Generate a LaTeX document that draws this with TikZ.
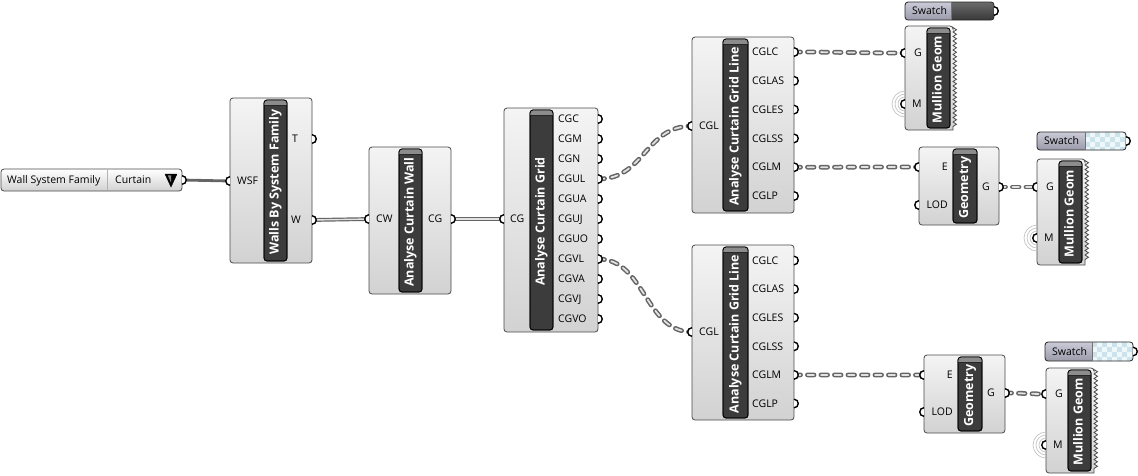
\documentclass[tikz,border=0pt]{standalone}
\usepackage{fontspec}
\setmainfont{Open Sans}
\usetikzlibrary{calc,backgrounds}

\definecolor{boxtop}{HTML}{F4F4F4}
\definecolor{boxbot}{HTML}{D2D2D2}
\definecolor{boxedge}{HTML}{4A4A4A}
\definecolor{bardark}{HTML}{3C3C3C}
\definecolor{barhi}{HTML}{8C8C8C}
\definecolor{wiredark}{HTML}{656565}
\definecolor{wirelight}{HTML}{E2E2E2}
\definecolor{swlabA}{HTML}{CACAD8}
\definecolor{swlabB}{HTML}{9A9AAA}
\definecolor{checkA}{HTML}{EEF7FA}
\definecolor{checkB}{HTML}{CDE3EC}
\definecolor{ringc}{HTML}{C4C4C4}

\tikzset{
  x=1pt, y=-1pt,
  compbox/.style={draw=boxedge, line width=0.8pt, rounded corners=3pt,
    top color=boxtop, bottom color=boxbot, inner sep=0pt, outer sep=0pt},
  titlebar/.style={draw=black, line width=0.8pt, fill=bardark,
    rounded corners=3pt, inner sep=0pt, outer sep=0pt},
  titletext/.style={text=white, font=\fontsize{12.5}{14}\selectfont\bfseries,
    rotate=90, inner sep=0pt, text height=9pt, text depth=3pt},
  lbl/.style={font=\fontsize{10.5}{12}\selectfont, inner sep=0pt, text=black,
    text height=7.5pt, text depth=0pt},
  portst/.style={draw=black, line width=1.4pt, fill=white},
  wsingle/.style={draw=wiredark, line width=2.8pt},
  wdouble/.style={draw=wiredark, line width=1.2pt, double=wirelight, double distance=1.4pt},
  wlist/.style={draw=wirelight, line width=1.8pt, line cap=round, dash pattern=on 6.5pt off 7pt,
    preaction={draw=wiredark, line width=4.8pt, line cap=round, dash pattern=on 6.5pt off 7pt}},
  ringst/.style={draw=ringc, line width=0.7pt},
}

\newcommand{\inport}[3]{%
  \coordinate (#1) at (#2,#3);
  \filldraw[portst] (#2,#3-4.3) .. controls (#2-5.6,#3-4.3) and (#2-5.6,#3+4.3) .. (#2,#3+4.3);}
\newcommand{\outport}[3]{%
  \coordinate (#1) at (#2,#3);
  \filldraw[portst] (#2,#3-4.3) .. controls (#2+5.6,#3-4.3) and (#2+5.6,#3+4.3) .. (#2,#3+4.3);}

% title bar: name x1 y1 x2 y2 text
\newcommand{\tbar}[6]{%
  \node[titlebar, anchor=north west, minimum width={(#4)-(#2)}, minimum height={(#5)-(#3)}] (#1) at (#2,#3) {};
  \begin{scope}
    \clip[rounded corners=3pt] (#2,#3) rectangle (#4,#5);
    \fill[barhi] (#2,#3) rectangle (#4,#3+4.5);
    \draw[black!85, line width=0.6pt] (#2,#3+5) -- (#4,#3+5);
  \end{scope}
  \draw[black, line width=0.8pt, rounded corners=3pt] (#2,#3) rectangle (#4,#5);
  \node[titletext] at ($(#1.center)+(0,1.5)$) {#6};}

% component: name x1 y1 x2 y2 bx1 bx2 title
\newcommand{\comp}[8]{%
  \node[compbox, anchor=north west, minimum width={(#4)-(#2)}, minimum height={(#5)-(#3)}] (#1) at (#2,#3) {};
  \tbar{#1-bar}{#6}{#3+2}{#7}{#5-2}{#8}}

% mullion geom: name x1 y1 x2 y2
\newcommand{\mullion}[5]{%
  \coordinate (#1) at ({(#2+#4)/2},{(#3+#5)/2});
  \pgfmathtruncatemacro\nteeth{(#5-#3-3)/4.5}%
  \path[compbox] (#4,#5) -- (#2,#5) -- (#2,#3) -- (#4,#3) [sharp corners] -- (#4,#3+1.5)
     \foreach \k in {1,...,\nteeth} { -- ++(3.5,2.25) -- ++(-3.5,2.25) } -- cycle;
  \tbar{#1-bar}{#2+22}{#3+2}{#2+45}{#5-2}{Mullion Geom}}

% rings round an unconnected port
\newcommand{\rings}[2]{%
  \begin{scope}
    \clip (#1-16,#2-16) rectangle (#1-1,#2+16);
    \draw[ringst] (#1,#2) circle[radius=7];
    \draw[ringst] (#1,#2) circle[radius=10];
    \draw[ringst] (#1,#2) circle[radius=13];
  \end{scope}}

% swatch: name x1 y1 xd x2 y2 kind
\newcommand{\swatchbox}[7]{%
  \pgfmathsetmacro\swmid{(#3+#6)/2}%
  \node[inner sep=0pt, anchor=north west, minimum width={(#5)-(#2)}, minimum height={(#6)-(#3)}] (#1) at (#2,#3) {};
  \begin{scope}
    \clip[rounded corners=3pt] (#2,#3) rectangle (#5,#6);
    \shade[top color=swlabA, bottom color=swlabB] (#2,#3) rectangle (#4,#6);
    \ifx#7d
      \shade[top color=black!58, bottom color=black!78] (#4,#3) rectangle (#5,#6);
    \else
      \fill[checkA] (#4,#3) rectangle (#5,#6);
      \foreach \c in {0,...,9} { \foreach \r in {0,...,4} {
        \pgfmathtruncatemacro\chk{mod(\c+\r,2)}%
        \ifnum\chk=0 \fill[checkB] (#4+\c*5,#3+\r*5) rectangle ++(5,5); \fi }}
    \fi
  \end{scope}
  \draw[black!85, line width=0.8pt, rounded corners=3pt] (#2,#3) rectangle (#5,#6);
  \draw[black!55, line width=0.6pt] (#4,#3) -- (#4,#6);
  \node[lbl, anchor=west] (#1-lbl) at (#2+7,\swmid) {Swatch};
  \outport{#1-out}{#5}{\swmid}}

\begin{document}
\begin{tikzpicture}
\useasboundingbox (0,0) rectangle (1138,475);

% ---------- value list
\node[compbox, anchor=north west, minimum width=181, minimum height=22, top color=white] (vlist) at (1,169) {};
\draw[black!30, line width=0.7pt] (107,170) -- (107,190);
\node[lbl, anchor=west] (vl-name) at (7,180) {Wall System Family};
\node[lbl, anchor=west] (vl-val) at (115,180) {Curtain};
\filldraw[black] (165,174) -- (177,174) -- (171,187) -- cycle;
\fill[black!45] (167.8,175.3) -- (171,175.3) -- (171,182.5) -- cycle;
\outport{vl-out}{182}{180}

% ---------- Walls By System Family
\comp{wbsf}{230}{98}{312}{263}{264}{287}{Walls By System Family}
\node[lbl, anchor=west] (wbsf-l1) at (237,181) {WSF};
\node[lbl, anchor=west] (wbsf-l2) at (292,139) {T};
\node[lbl, anchor=west] (wbsf-l3) at (291,220) {W};
\inport{wbsf-wsf}{230}{181}
\outport{wbsf-t}{312}{139}
\outport{wbsf-w}{312}{220}

% ---------- Analyse Curtain Wall
\comp{acw}{369}{147}{451}{294}{399}{422}{Analyse Curtain Wall}
\node[lbl, anchor=west] (acw-l1) at (376,219) {CW};
\node[lbl, anchor=west] (acw-l2) at (428,219) {CG};
\inport{acw-cw}{369}{219}
\outport{acw-cg}{451}{219}

% ---------- Analyse Curtain Grid
\comp{acg}{504}{108}{598}{332}{530}{553}{Analyse Curtain Grid}
\node[lbl, anchor=west] (acg-l0) at (510,219) {CG};
\inport{acg-cg}{504}{219}
\foreach \n [count=\i from 0] in {CGC,CGM,CGN,CGUL,CGUA,CGUJ,CGUO,CGVL,CGVA,CGVJ,CGVO} {
  \node[lbl, anchor=west] (acg-l-\n) at (558,119+20*\i) {\n};
  \outport{acg-\n}{598}{119+20*\i}
}

% ---------- Analyse Curtain Grid Line (top)
\comp{gla}{692}{37}{794}{213}{723}{748}{Analyse Curtain Grid Line}
\node[lbl, anchor=west] (gla-l0) at (699,126) {CGL};
\inport{gla-cgl}{692}{126}
\foreach \n [count=\i from 0] in {CGLC,CGLAS,CGLES,CGLSS,CGLM,CGLP} {
  \node[lbl, anchor=west] (gla-l-\n) at (752,52+28.8*\i) {\n};
  \outport{gla-\n}{794}{52+28.8*\i}
}

% ---------- Analyse Curtain Grid Line (bottom)
\comp{glb}{692}{245}{794}{420}{723}{748}{Analyse Curtain Grid Line}
\node[lbl, anchor=west] (glb-l0) at (699,332) {CGL};
\inport{glb-cgl}{692}{332}
\foreach \n [count=\i from 0] in {CGLC,CGLAS,CGLES,CGLSS,CGLM,CGLP} {
  \node[lbl, anchor=west] (glb-l-\n) at (752,260.5+28.6*\i) {\n};
  \outport{glb-\n}{794}{260.5+28.6*\i}
}

% ---------- Geometry (upper)
\comp{geoa}{919}{147}{999}{225}{953}{977}{Geometry}
\node[lbl, anchor=east] (geoa-l1) at (948,167) {E};
\node[lbl, anchor=east] (geoa-l2) at (948,205) {LOD};
\node[lbl, anchor=west] (geoa-l3) at (982,187) {G};
\inport{geoa-e}{919}{167}
\inport{geoa-lod}{919}{205}
\outport{geoa-g}{999}{187}

% ---------- Geometry (lower)
\comp{geob}{924}{355}{1005}{433}{958}{982}{Geometry}
\node[lbl, anchor=east] (geob-l1) at (953,375) {E};
\node[lbl, anchor=east] (geob-l2) at (953,412) {LOD};
\node[lbl, anchor=west] (geob-l3) at (987,393) {G};
\inport{geob-e}{924}{375}
\inport{geob-lod}{924}{412}
\outport{geob-g}{1005}{393}

% ---------- Swatches
\swatchbox{swa}{905}{2}{951}{994}{20}{d}
\swatchbox{swb}{1037}{132}{1085}{1126}{150}{c}
\swatchbox{swc}{1045}{342}{1092}{1133}{361}{c}

% ---------- Mullion Geom (three)
\mullion{mga}{905}{26}{953}{130}
\node[lbl, anchor=west] (mga-l1) at (914,53) {G};
\node[lbl, anchor=west] (mga-l2) at (912,104) {M};
\rings{905}{104}
\inport{mga-g}{905}{53}
\inport{mga-m}{905}{104}

\mullion{mgb}{1037}{159}{1085}{265}
\node[lbl, anchor=west] (mgb-l1) at (1046,187) {G};
\node[lbl, anchor=west] (mgb-l2) at (1044,238) {M};
\rings{1037}{238}
\inport{mgb-g}{1037}{187}
\inport{mgb-m}{1037}{238}

\mullion{mgc}{1046}{368}{1094}{473}
\node[lbl, anchor=west] (mgc-l1) at (1055,394) {G};
\node[lbl, anchor=west] (mgc-l2) at (1053,445) {M};
\rings{1046}{445}
\inport{mgc-g}{1046}{394}
\inport{mgc-m}{1046}{445}

% ---------- wires (behind everything)
\begin{pgfonlayer}{background}
\fill[white] (0,0) rectangle (1138,475);
\draw[wsingle] (vl-out) -- (wbsf-wsf);
\draw[wdouble] (wbsf-w) -- (acw-cw);
\draw[wdouble] (acw-cg) -- (acg-cg);
\draw[wlist] (acg-CGUL) .. controls ($(acg-CGUL)+(47,0)$) and ($(gla-cgl)+(-47,0)$) .. (gla-cgl);
\draw[wlist] (acg-CGVL) .. controls ($(acg-CGVL)+(47,0)$) and ($(glb-cgl)+(-47,0)$) .. (glb-cgl);
\draw[wlist] (gla-CGLC) to[out=0,in=180] (mga-g);
\draw[wlist] (gla-CGLM) to[out=0,in=180] (geoa-e);
\draw[wlist] (geoa-g) to[out=0,in=180] (mgb-g);
\draw[wlist] (glb-CGLM) to[out=0,in=180] (geob-e);
\draw[wlist] (geob-g) to[out=0,in=180] (mgc-g);
\end{pgfonlayer}
\end{tikzpicture}
\end{document}
